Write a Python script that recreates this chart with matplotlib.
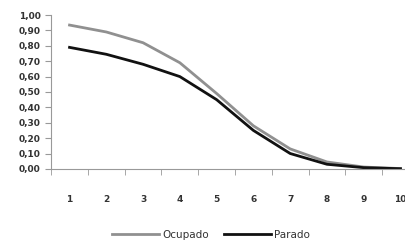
import matplotlib.pyplot as plt
from matplotlib.ticker import FuncFormatter

x = list(range(1, 11))
ocupado = [0.935, 0.89, 0.82, 0.69, 0.49, 0.28, 0.13, 0.045, 0.012, 0.002]
parado = [0.79, 0.745, 0.68, 0.60, 0.45, 0.25, 0.10, 0.03, 0.008, 0.001]

fig = plt.figure(figsize=(4.06, 2.43), dpi=100)
ax = fig.add_axes([0.126, 0.305, 0.874, 0.633])

ax.plot(x, ocupado, color='#909090', lw=2.0, label='Ocupado')
ax.plot(x, parado, color='#111111', lw=2.0, label='Parado')

ax.set_xlim(0.5, 10.15)
ax.set_ylim(0, 1.0)
ax.set_yticks([i / 10 for i in range(11)])
ax.yaxis.set_major_formatter(FuncFormatter(lambda v, p: f'{v:.2f}'.replace('.', ',')))
ax.set_xticks(x)
ax.set_xticks([i + 0.5 for i in range(0, 10)], minor=True)
ax.tick_params(axis='x', which='major', length=0, pad=19, labelsize=6.5, labelcolor='#333333')
ax.tick_params(axis='x', which='minor', length=4, color='#999999', direction='out')
ax.tick_params(axis='y', length=4, color='#999999', labelsize=6.5, labelcolor='#333333')
for lab in ax.get_xticklabels() + ax.get_yticklabels():
    lab.set_fontweight('bold')

for s in ['top', 'right']:
    ax.spines[s].set_visible(False)
for s in ['left', 'bottom']:
    ax.spines[s].set_color('#999999')
    ax.spines[s].set_linewidth(0.8)

fig.legend(loc='center', bbox_to_anchor=(0.52, 0.033), ncol=2, frameon=False,
           fontsize=7.5, handlelength=4.5, handletextpad=0.3, columnspacing=1.5,
           labelcolor='#333333')

fig.savefig('out.png', dpi=100)
